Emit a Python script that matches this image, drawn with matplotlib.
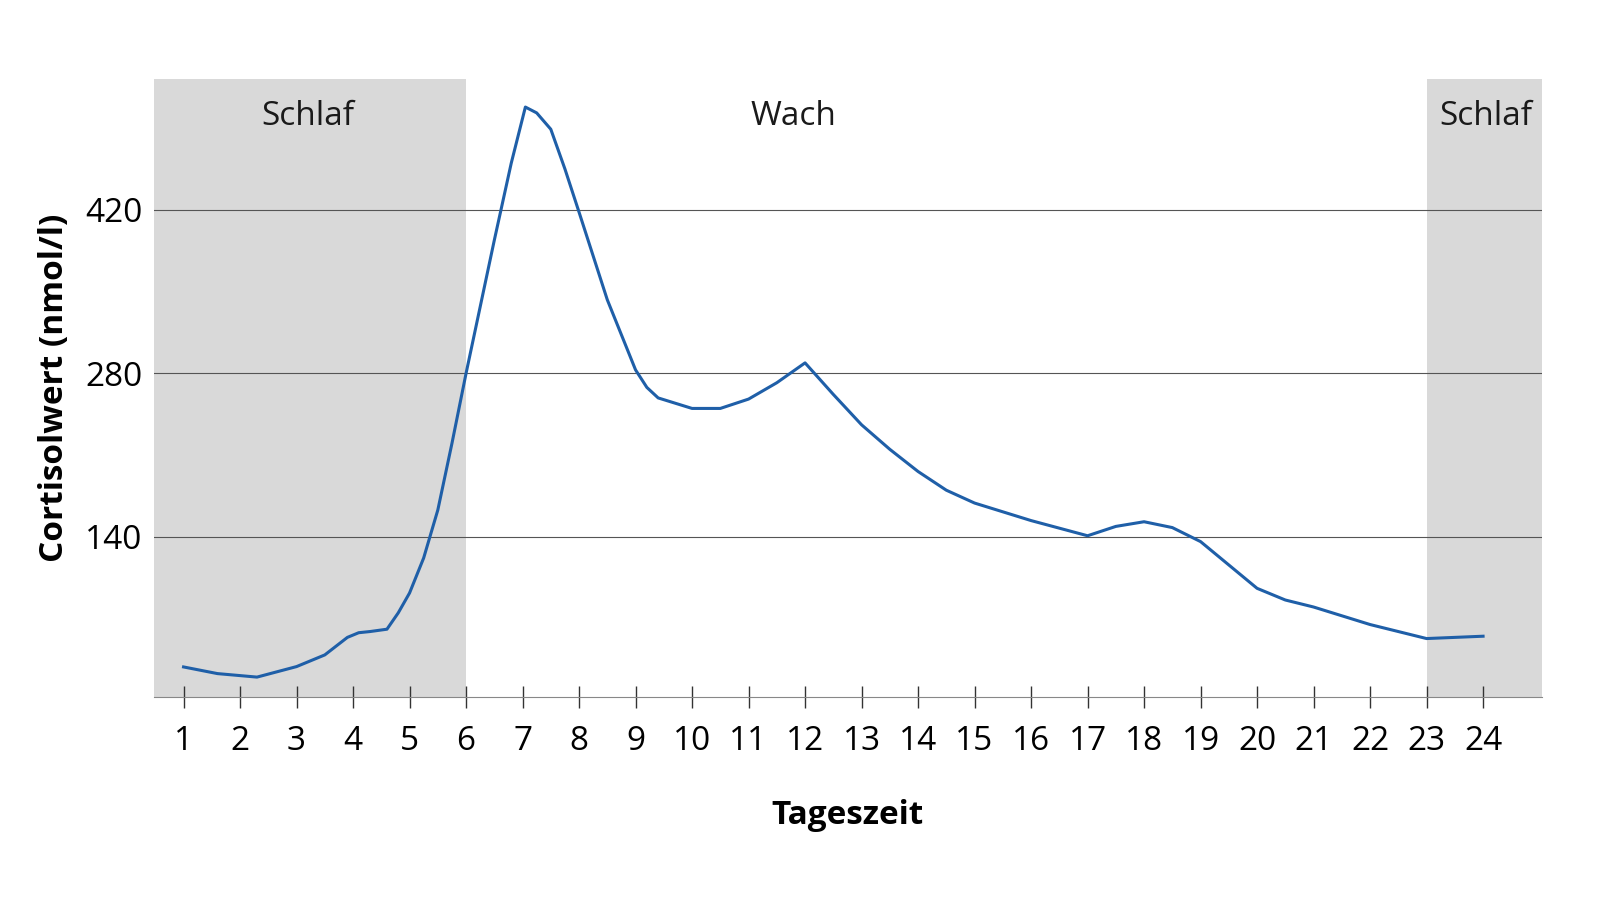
import matplotlib
matplotlib.use("Agg")
import matplotlib.pyplot as plt

plt.rcParams['font.family'] = ['Open Sans', 'DejaVu Sans']

# Stützpunkte der Kurve (Stunde, nmol/l)
hours = [1, 1.6, 2.3, 3, 3.5, 3.9, 4.1, 4.3, 4.6, 4.8, 5, 5.25, 5.5, 5.75, 6, 6.25, 6.5,
         6.8, 7.05, 7.25, 7.5, 7.75, 8, 8.5, 9, 9.2, 9.4, 10, 10.5, 11, 11.5, 12, 12.5,
         13, 13.5, 14, 14.5, 15, 16, 17, 17.5, 18, 18.5, 19, 19.5, 20, 20.5, 21, 22, 23, 24]
cortisol = [28.7, 23, 20, 29, 39, 54, 58, 59, 61, 75, 92, 122, 163, 220, 280, 337, 394,
            460, 508, 503, 489, 455, 418, 343, 283, 268, 259, 250, 250, 258, 272, 289, 262,
            236, 215, 196, 180, 169, 154, 141, 149, 153, 148, 136, 116, 96, 86, 80, 65, 53, 55]

sleep_zones = [(0.47, 6.0, "Schlaf", 3.2), (23.0, 25.05, "Schlaf", 24.05)]
yticks = [140, 280, 420]
xticks = list(range(1, 25))

fig = plt.figure(figsize=(16, 9), dpi=100)
ax = fig.add_axes([0.096, 0.2256, 0.868, 0.6866])

for x0, x1, label, xc in sleep_zones:
    ax.axvspan(x0, x1, color='#d9d9d9', lw=0, zorder=0)
    ax.text(xc, 500, label, fontsize=24, ha='center', va='center', color='#1a1a1a')
ax.text(11.8, 500, "Wach", fontsize=24, ha='center', va='center', color='#1a1a1a')

for y in yticks:
    ax.axhline(y, color='#555555', lw=0.8, zorder=1)

ax.plot(hours, cortisol, color='#1f5fa8', lw=2.2, zorder=3, solid_joinstyle='round')

ax.set_xlim(0.47, 25.05)
ax.set_ylim(3, 532)
ax.set_xticks(xticks)
ax.set_yticks(yticks)
ax.tick_params(axis='x', direction='inout', length=16, width=1, color='#333333',
               labelsize=24, pad=12)
ax.tick_params(axis='y', length=0, labelsize=24, pad=8)
for s in ['top', 'right', 'left']:
    ax.spines[s].set_visible(False)
ax.spines['bottom'].set_color('#888888')

ax.set_xlabel("Tageszeit", fontsize=24, fontweight='bold', labelpad=30)
ax.set_ylabel("Cortisolwert (nmol/l)", fontsize=24, fontweight='bold', labelpad=10)

fig.savefig("out.png", dpi=100)
